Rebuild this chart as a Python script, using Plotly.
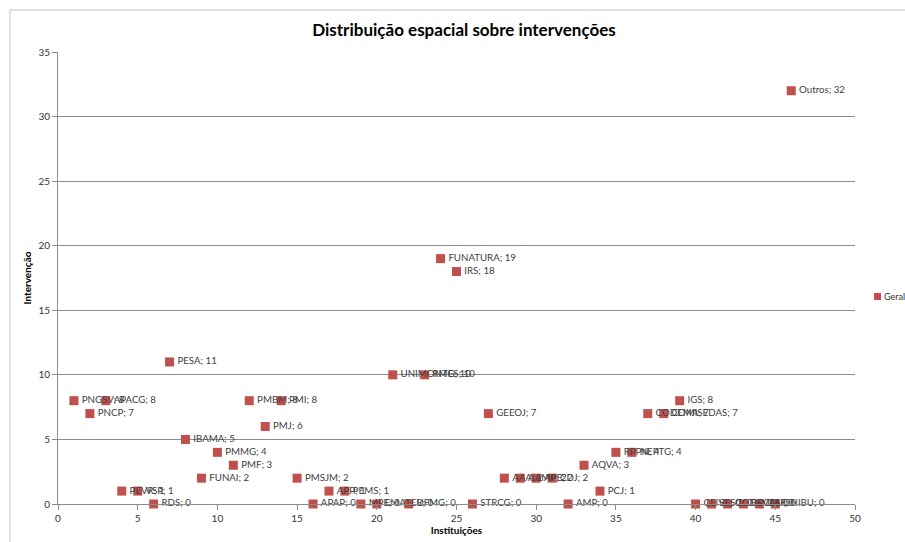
import plotly.graph_objects as go

# ---- data ----
inst_index = list(range(1, 47))
inst_names = [
    "PNGSV", "PNCP", "APACG", "PEVR", "VSP", "RDS", "PESA", "IBAMA", "FUNAI", "PMMG",
    "PMF", "PMBM", "PMJ", "PMI", "PMSJM", "APAP", "APP", "PEMS", "MPE", "EMATER",
    "UNIMONTES", "UFMG", "RMG", "FUNATURA", "IRS", "STRCG", "GEEOJ", "AAA", "AAMP", "APE",
    "CDJ", "AMP", "AQVA", "PCJ", "RPPN", "NEPTG", "CODEMA", "COMISEDAS", "IGS", "CEIVE",
    "SESC", "CODEVASF", "RPCO", "CAI", "DNIBU", "Outros",
]
interventions = [
    8, 7, 8, 1, 1, 0, 11, 5, 2, 4,
    3, 8, 6, 8, 2, 0, 1, 1, 0, 0,
    10, 0, 10, 19, 18, 0, 7, 2, 2, 2,
    2, 0, 3, 1, 4, 4, 7, 7, 8, 0,
    0, 0, 0, 0, 0, 32,
]
series_name = "Geral"
x_ticks = [0, 5, 10, 15, 20, 25, 30, 35, 40, 45, 50]
y_ticks = [0, 5, 10, 15, 20, 25, 30, 35]

RED = "#C0504D"
GRID = "#8C8C8C"
TXT = "#404040"
FONT = "Lato, 'Liberation Sans', sans-serif"

labels = [f"\u2009{n}; {v}" for n, v in zip(inst_names, interventions)]

fig = go.Figure()
fig.add_trace(go.Scatter(
    x=inst_index, y=interventions, mode="markers+text", name=series_name,
    text=labels, textposition="middle right",
    textfont=dict(family=FONT, size=9.7, color=TXT),
    marker=dict(symbol="square", size=9, color=RED, line=dict(width=0)),
    cliponaxis=False, showlegend=False,
))

L, R, T, B = 58, 50, 52, 38
W, H = 905, 542
pw, ph = W - L - R, H - T - B

def px2paper_x(p):
    return (p - L) / pw

def px2paper_y(p):
    return (H - B - p) / ph

fig.update_layout(
    width=W, height=H,
    margin=dict(l=L, r=R, t=T, b=B, autoexpand=False),
    paper_bgcolor="white", plot_bgcolor="white",
    font=dict(family=FONT, size=10, color="#333333"),
    title=dict(text="<b>Distribuição espacial sobre intervenções</b>",
               x=464 / W, xanchor="center", xref="container",
               y=1 - 30 / H, yanchor="middle", yref="container",
               font=dict(family=FONT, size=17, color="#000000")),
    xaxis=dict(range=[0, 50], tickvals=x_ticks, ticks="outside", ticklen=5,
               tickcolor=GRID, showline=True, linecolor=GRID, linewidth=1,
               showgrid=False, zeroline=False, automargin=False,
               tickfont=dict(family=FONT, size=10, color="#333333"),
               title=dict(text="<b>Instituições</b>", standoff=3,
                          font=dict(family=FONT, size=10, color="#000000"))),
    yaxis=dict(range=[0, 35], tickvals=y_ticks, ticks="outside", ticklen=5,
               tickcolor=GRID, showline=True, linecolor=GRID, linewidth=1,
               showgrid=True, gridcolor=GRID, gridwidth=1, zeroline=False,
               automargin=False,
               tickfont=dict(family=FONT, size=10, color="#333333"),
               title=dict(text="<b>Intervenção</b>", standoff=4,
                          font=dict(family=FONT, size=10, color="#000000"))),
)

# chart outer frame (partially visible, as in an exported spreadsheet chart)
fig.add_shape(type="rect", xref="paper", yref="paper",
              x0=px2paper_x(10), x1=px2paper_x(960),
              y0=px2paper_y(600), y1=px2paper_y(10),
              line=dict(color="#D9D9D9", width=1.5), layer="below")

# legend (drawn manually so the entry sits at the right edge as in the reference)
fig.add_shape(type="rect", xref="paper", yref="paper",
              x0=px2paper_x(874), x1=px2paper_x(881),
              y0=px2paper_y(300), y1=px2paper_y(293),
              fillcolor=RED, line=dict(width=0))
fig.add_annotation(text=series_name, xref="paper", yref="paper",
                   x=px2paper_x(882), y=px2paper_y(296),
                   xanchor="left", yanchor="middle", showarrow=False,
                   font=dict(family=FONT, size=9, color="#333333"))

fig.write_html("out.html")
